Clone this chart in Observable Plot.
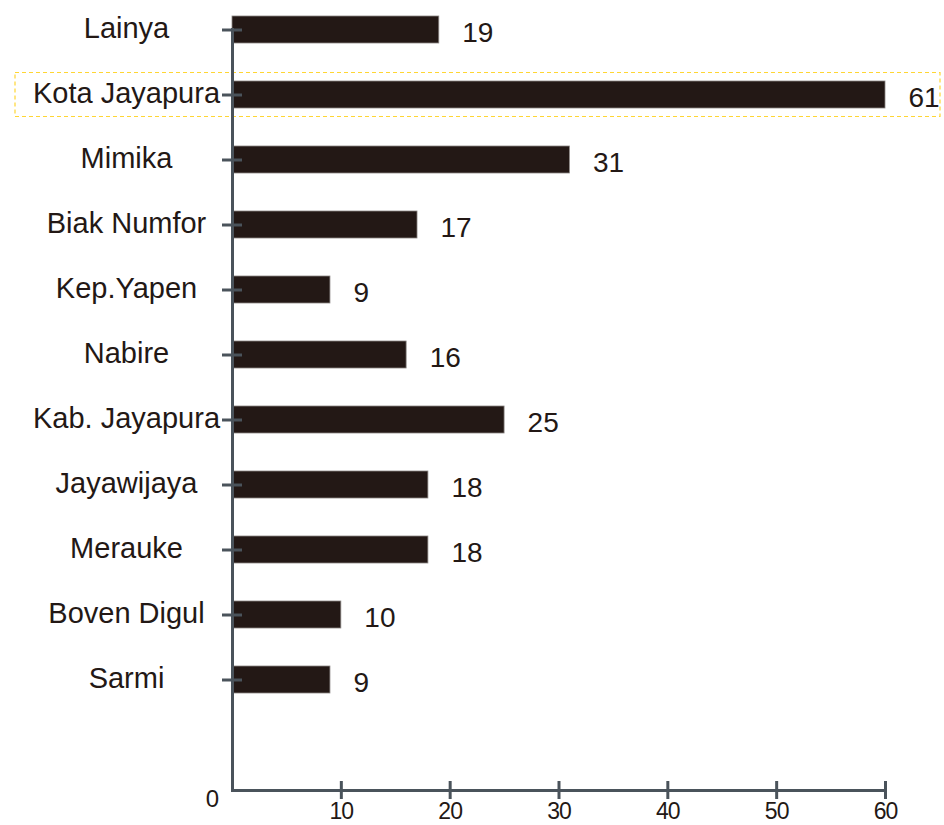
<!DOCTYPE html>
<html>
<head>
<meta charset="utf-8">
<script src="https://cdn.jsdelivr.net/npm/d3@7"></script>
<script src="https://cdn.jsdelivr.net/npm/@observablehq/plot@0.6"></script>
<style>
  html, body { margin: 0; padding: 0; background: #fff; }
  #chart svg { display: block; }
</style>
</head>
<body>
<div id="chart"></div>
<script>
const categories = ["Lainya", "Kota Jayapura", "Mimika", "Biak Numfor", "Kep.Yapen", "Nabire", "Kab. Jayapura", "Jayawijaya", "Merauke", "Boven Digul", "Sarmi"];
const values = [19, 61, 31, 17, 9, 16, 25, 18, 18, 10, 9];
const xTicks = [10, 20, 30, 40, 50, 60];
const highlighted = ["Kota Jayapura"];

const data = categories.map((c, i) => ({category: c, value: values[i]}));

const axisColor = "#4a535b";
const ink = "#231815";
const font = "'Liberation Sans', Arial, Helvetica, sans-serif";

const chart = Plot.plot({
  width: 944,
  height: 825,
  marginTop: 28,
  marginBottom: 35,
  marginLeft: 232,
  marginRight: 59,
  style: {fontFamily: font, background: "#fff", overflow: "visible"},
  x: {domain: [0, 60], clamp: true, axis: null, label: null},
  y: {domain: categories, range: [15, 693.5], paddingInner: 0.586, paddingOuter: 0, axis: null, label: null},
  marks: [
    Plot.barX(highlighted, {
      y: d => d, x1: 0, x2: 60,
      insetLeft: -217, insetRight: -55, insetTop: -8.5, insetBottom: -8.5,
      fill: "none", stroke: "#ffd633", strokeWidth: 1.2, strokeDasharray: "4,3"
    }),
    Plot.barX(data, {y: "category", x: "value", fill: ink, stroke: "#8a8583", strokeWidth: 0.8}),
    Plot.ruleX([0], {stroke: axisColor, strokeWidth: 3}),
    Plot.frame({anchor: "bottom", stroke: axisColor, strokeWidth: 3}),
    Plot.axisY({tickSize: 20, dx: 10, stroke: axisColor, strokeWidth: 3, tickFormat: () => "", tickPadding: 0, label: null}),
    Plot.axisX({ticks: xTicks, tickSize: 18, dy: -9, stroke: axisColor, strokeWidth: 3, label: null,
      tickPadding: 3, fontSize: 23, fill: ink, tickFormat: d => String(d)}),
    Plot.text([0], {x: d => d, frameAnchor: "bottom", dx: -20, dy: 9, text: d => String(d),
      fontSize: 24, fill: ink, lineAnchor: "middle"}),
    Plot.text(categories, {y: d => d, frameAnchor: "left", dx: -106, text: d => d,
      textAnchor: "middle", fontSize: 29, fill: ink, dy: -1}),
    Plot.text(data, {y: "category", x: "value", text: d => String(d.value), dx: 23, dy: 3,
      textAnchor: "start", fontSize: 28, fill: ink})
  ]
});

chart.querySelectorAll("g[aria-label='x-axis tick label'] text").forEach(t => t.style.letterSpacing = "-1px");
document.getElementById("chart").appendChild(chart);
</script>
</body>
</html>
